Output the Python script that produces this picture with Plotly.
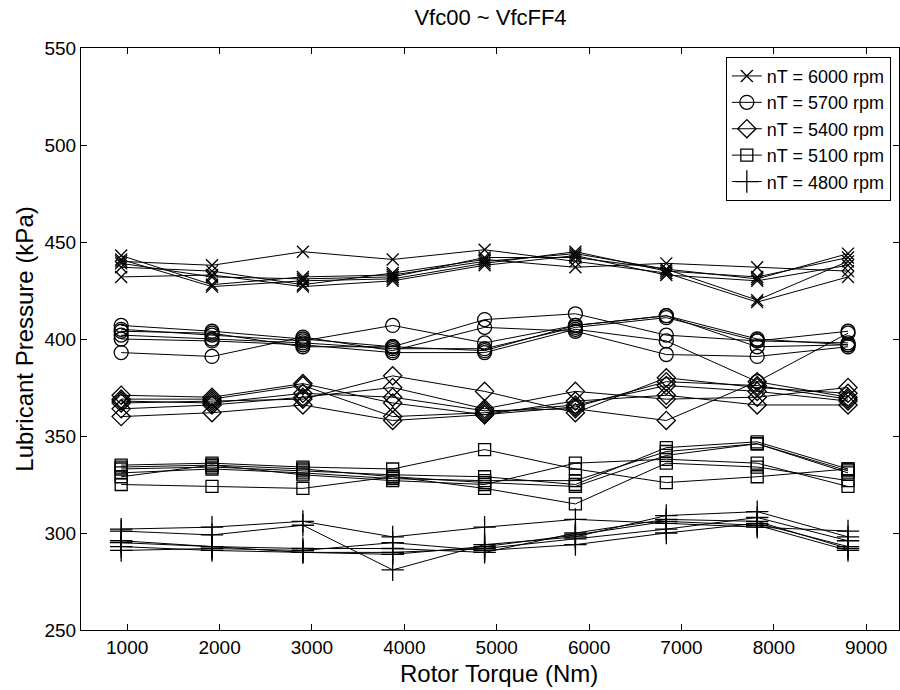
import plotly.graph_objects as go

torque = [935, 1918, 2902, 3874, 4869, 5852, 6836, 7820, 8803]

rpm_labels = ["nT = 6000 rpm", "nT = 5700 rpm", "nT = 5400 rpm", "nT = 5100 rpm", "nT = 4800 rpm"]

p6000 = [
    [443, 428, 432, 433, 440, 444, 436, 431, 444],
    [441, 427, 430, 431, 439, 445, 435, 432, 442],
    [440, 438, 445, 441, 446, 440, 434, 419, 432],
    [437, 435, 428, 434, 441, 437, 439, 437, 435],
    [432, 433, 427, 430, 438, 443, 433, 430, 438],
    [439, 432, 431, 432, 442, 442, 436, 420, 440],
]
p5700 = [
    [407, 404, 400, 396, 410, 413, 402, 399, 404],
    [405, 402, 399, 407, 398, 407, 412, 400, 397],
    [402, 400, 398, 395, 395, 406, 411, 399, 398],
    [400, 399, 397, 393, 393, 405, 399, 378, 403],
    [393, 391, 401, 394, 406, 404, 392, 391, 396],
    [404, 403, 396, 396, 394, 407, 412, 396, 397],
]
p5400 = [
    [371, 370, 377, 367, 361, 365, 378, 376, 369],
    [369, 369, 376, 360, 362, 366, 376, 373, 368],
    [367, 368, 369, 381, 373, 362, 380, 375, 372],
    [364, 366, 370, 375, 364, 373, 369, 370, 375],
    [360, 362, 366, 358, 361, 368, 371, 366, 366],
    [368, 367, 372, 370, 363, 364, 358, 378, 370],
]
p5100 = [
    [335, 336, 334, 333, 343, 333, 326, 329, 333],
    [333, 334, 332, 330, 329, 325, 344, 347, 333],
    [331, 333, 331, 328, 327, 327, 342, 346, 331],
    [329, 335, 330, 327, 325, 336, 338, 336, 324],
    [325, 324, 323, 329, 323, 315, 336, 334, 327],
    [334, 335, 333, 329, 326, 324, 340, 346, 332],
]
p4800 = [
    [302, 303, 306, 298, 303, 307, 305, 303, 301],
    [301, 299, 304, 281, 294, 298, 309, 311, 298],
    [296, 293, 292, 292, 290, 300, 307, 306, 292],
    [293, 291, 290, 290, 292, 297, 302, 308, 296],
    [291, 292, 291, 295, 291, 294, 300, 305, 293],
    [295, 293, 290, 289, 293, 299, 306, 304, 291],
]

groups = [p6000, p5700, p5400, p5100, p4800]
symbols = ["x-thin-open", "circle-open", "diamond-open", "square-open", "cross-thin-open"]
sizes = [12, 14, 14, 12, 16]

FONT = "Liberation Sans, Arial, Helvetica, sans-serif"

fig = go.Figure()
for gi, (grp, sym, sz, lab) in enumerate(zip(groups, symbols, sizes, rpm_labels)):
    for li, ys in enumerate(grp):
        fig.add_trace(go.Scatter(
            x=torque, y=ys, mode="lines+markers", name=lab,
            legendgroup=lab, showlegend=(li == 0),
            line=dict(color="black", width=1),
            marker=dict(symbol=sym, size=sz, color="black", line=dict(color="black", width=1.3)),
        ))

axis_common = dict(
    showline=True, linecolor="black", linewidth=1, mirror="ticks",
    ticks="inside", ticklen=6, tickcolor="black", showgrid=False, zeroline=False,
    tickfont=dict(family=FONT, size=19, color="black"),
)

fig.update_layout(
    width=900, height=690,
    margin=dict(l=81, r=1, t=48, b=60),
    paper_bgcolor="white", plot_bgcolor="white",
    title=dict(text="Vfc00 ~ VfcFF4", x=0.545, xanchor="center", y=0.975, yanchor="middle",
               font=dict(family=FONT, size=22, color="black")),
    xaxis=dict(range=[500, 9355], tickvals=[1000, 2000, 3000, 4000, 5000, 6000, 7000, 8000, 9000],
               **axis_common),
    yaxis=dict(range=[250, 550], tickvals=[250, 300, 350, 400, 450, 500, 550],
               title=dict(text="Lubricant Pressure (kPa)", standoff=4,
                          font=dict(family=FONT, size=24, color="black")),
               **axis_common),
    legend=dict(x=0.99, xanchor="right", y=0.985, yanchor="top",
                bordercolor="black", borderwidth=1, bgcolor="white",
                font=dict(family=FONT, size=18, color="black"),
                tracegroupgap=0),
    showlegend=True,
    annotations=[dict(text="Rotor Torque (Nm)", xref="paper", yref="paper",
                      x=0.511, y=-0.074, xanchor="center", yanchor="middle",
                      showarrow=False, font=dict(family=FONT, size=24, color="black"))],
)

fig.write_html("out.html")
